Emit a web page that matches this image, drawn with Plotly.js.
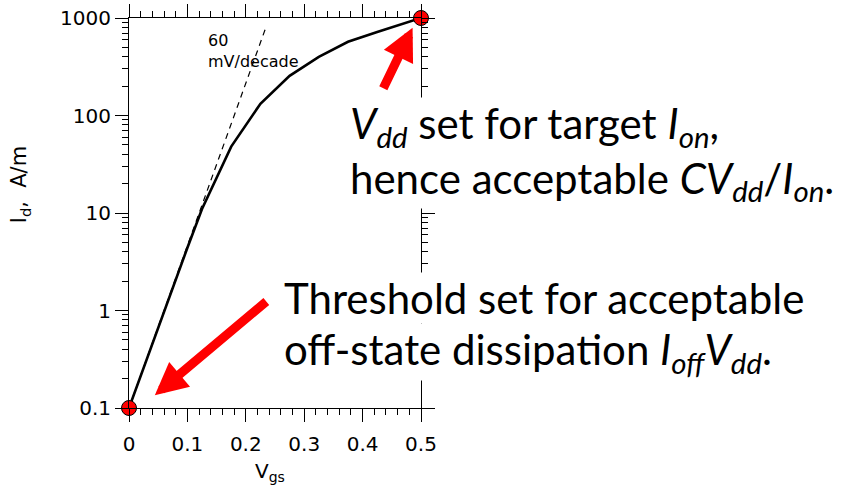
<!DOCTYPE html>
<html>
<head>
<meta charset="utf-8">
<script src="https://cdn.plot.ly/plotly-3.0.1.min.js"></script>
<style>html,body{margin:0;padding:0;background:#fff;}#chart{width:859px;height:494px;}</style>
</head>
<body>
<div id="chart"></div>
<script>
// Data
const vgs = [0, 0.025, 0.05, 0.075, 0.1, 0.125, 0.175, 0.225, 0.275, 0.325, 0.375, 0.425, 0.5];
const idCurrent = [0.1, 0.26, 0.68, 1.7, 4.4, 11, 48, 132, 255, 400, 570, 720, 1000];
const slopeX = [0, 0.235];
const slopeY = [0.1, 820];
const pointX = [0, 0.5];
const pointY = [0.1, 1000];
const xTickVals = [0, 0.1, 0.2, 0.3, 0.4, 0.5];
const xTickText = ['0', '0.1', '0.2', '0.3', '0.4', '0.5'];
const yTickVals = [0.1, 1, 10, 100, 1000];
const yTickText = ['0.1', '1', '10', '100', '1000'];
const upperLines = ['<i>V<sub>dd</sub></i> set for target <i>I<sub>on</sub></i>,',
                    'hence acceptable <i>CV<sub>dd</sub></i>/<i>I<sub>on</sub></i>.'];
const lowerLines = ['Threshold set for acceptable',
                    'off-state dissipation <i>I<sub>off</sub>V<sub>dd</sub></i>.'];

const axisFont = {family: 'DejaVu Sans', size: 20, color: '#000'};
const bigFont = {family: 'Lato', size: 42, color: '#000'};

const traces = [
  {x: slopeX, y: slopeY, mode: 'lines', line: {color: '#000', width: 1.2, dash: '6px,5px'}, hoverinfo: 'skip'},
  {x: vgs, y: idCurrent, mode: 'lines', line: {color: '#000', width: 2.6}, hoverinfo: 'skip'},
  {x: pointX, y: pointY, mode: 'markers', cliponaxis: false,
   marker: {color: '#ff0000', size: 15, line: {color: '#000', width: 1}}, hoverinfo: 'skip'}
];

// pixel helpers for the text boxes (plot area 129..421 x 18..408)
const px2paperX = p => (p - 129.3) / 292;
const px2paperY = p => (407.7 - p) / 389.4;

function textBlock(txt, leftPx, topPx) {
  return {xref: 'paper', yref: 'paper', x: px2paperX(leftPx), y: px2paperY(topPx),
          xanchor: 'left', yanchor: 'top', align: 'left', bgcolor: '#fff', borderpad: 0,
          showarrow: false, font: bigFont, text: txt};
}

const layout = {
  width: 859, height: 494,
  margin: {l: 129, r: 438, t: 18, b: 86},
  paper_bgcolor: '#fff', plot_bgcolor: '#fff',
  showlegend: false,
  xaxis: {
    range: [0, 0.5], tickmode: 'array', tickvals: xTickVals, ticktext: xTickText,
    ticks: 'outside', ticklen: 13, tickwidth: 1, tickcolor: '#000', ticklabelstandoff: 5,
    showline: true, linecolor: '#000', linewidth: 1, mirror: 'allticks',
    showgrid: false, zeroline: false, tickfont: axisFont,
    minor: {dtick: 0.02, ticks: 'outside', ticklen: 6, tickwidth: 1, tickcolor: '#000', showgrid: false}
  },
  yaxis: {
    type: 'log', range: [-1, 3], tickmode: 'array', tickvals: yTickVals, ticktext: yTickText,
    ticks: 'outside', ticklen: 13, tickwidth: 1, tickcolor: '#000',
    showline: true, linecolor: '#000', linewidth: 1, mirror: 'allticks',
    showgrid: false, zeroline: false, tickfont: axisFont,
    minor: {dtick: 'D1', ticks: 'outside', ticklen: 6, tickwidth: 1, tickcolor: '#000', showgrid: false}
  },
  annotations: [
    {xref: 'x', yref: 'y', x: 0.132, y: 2.89, xanchor: 'left', yanchor: 'top', align: 'left',
     text: '60<br>mV/decade', showarrow: false, font: {family: 'DejaVu Sans', size: 16, color: '#000'}},
    {xref: 'paper', yref: 'paper', x: 0.482, y: -0.165, xanchor: 'center', yanchor: 'middle',
     text: 'V<sub>gs</sub>', showarrow: false, font: axisFont},
    {xref: 'paper', yref: 'paper', x: -0.374, y: 0.573, xanchor: 'center', yanchor: 'middle', textangle: -90,
     text: 'I<sub>d</sub>,  A/m', showarrow: false, font: {family: 'DejaVu Sans', size: 21, color: '#000'}},
    textBlock(upperLines.join('<br>'), 349, 97),
    textBlock(lowerLines[0], 283, 272),
    textBlock(lowerLines[1], 283, 323),
    {xref: 'x', yref: 'y', x: 0.4856, y: 2.9, ax: -30, ay: 62, text: '', showarrow: true,
     arrowhead: 2, arrowsize: 0.72, arrowwidth: 9, arrowcolor: '#ff0000', standoff: 0},
    {xref: 'x', yref: 'y', x: 0.0442, y: -0.869, ax: 113, ay: -95, text: '', showarrow: true,
     arrowhead: 2, arrowsize: 0.72, arrowwidth: 9, arrowcolor: '#ff0000', standoff: 0}
  ]
};

Plotly.newPlot('chart', traces, layout, {staticPlot: true, displayModeBar: false});
</script>
</body>
</html>
